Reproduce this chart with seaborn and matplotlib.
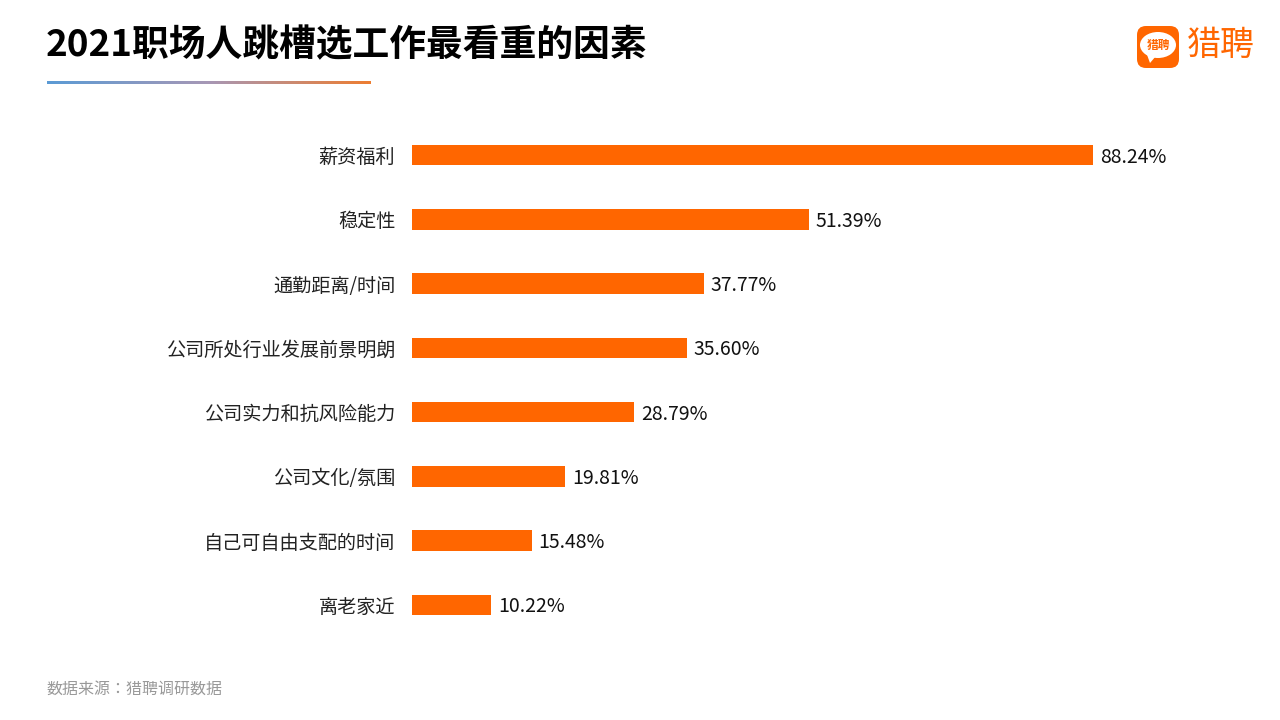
import matplotlib
matplotlib.use("Agg")
import matplotlib.pyplot as plt
from matplotlib import font_manager as fm
import seaborn as sns
import numpy as np
import pandas as pd
from matplotlib.patches import FancyBboxPatch, Ellipse, Polygon
from matplotlib.colors import LinearSegmentedColormap

names = sorted({f.name for f in fm.fontManager.ttflist})
cjk = [n for n in names if "CJK" in n]
plt.rcParams["font.family"] = "sans-serif"
plt.rcParams["font.sans-serif"] = cjk + ["Noto Sans CJK SC", "Noto Sans CJK JP", "DejaVu Sans"]

categories = ["薪资福利", "稳定性", "通勤距离/时间", "公司所处行业发展前景明朗", "公司实力和抗风险能力",
              "公司文化/氛围", "自己可自由支配的时间", "离老家近"]
values = [88.24, 51.39, 37.77, 35.60, 28.79, 19.81, 15.48, 10.22]
title = "2021职场人跳槽选工作最看重的因素"
source = "数据来源：猎聘调研数据"

df = pd.DataFrame({"cat": categories, "val": values})
fig = plt.figure(figsize=(12.8, 7.2), dpi=100)
ax = fig.add_axes([412/1280, 1-637/720, 772/1280, 514/720])
sns.barplot(data=df, x="val", y="cat", color="#FF6600", width=0.32, saturation=1, ax=ax)
ax.set_xlim(0, 100)
ax.set_ylim(len(values)-0.5, -0.5)
for i, v in enumerate(values):
    ax.text(v + 0.9, i + 0.03, f"{v:.2f}%", va="center", ha="left", fontsize=14, color="#111111")
ax.set_xlabel(""); ax.set_ylabel("")
ax.set_xticks([])
ax.tick_params(axis="y", length=0, pad=12, labelsize=13.8, labelcolor="#222222")
for s in ax.spines.values():
    s.set_visible(False)

fig.text(46/1280, 1-46/720, title, fontsize=26.5, fontweight="bold", va="center", ha="left", color="#000000")
gax = fig.add_axes([47/1280, 1-84/720, 324/1280, 3/720])
grad = np.linspace(0, 1, 256).reshape(1, -1)
cmap = LinearSegmentedColormap.from_list("g", ["#5B9BD5", "#A797B5", "#ED7D31"])
gax.imshow(grad, aspect="auto", cmap=cmap)
gax.axis("off")

fig.text(46/1280, 1-689/720, source, fontsize=11.5, color="#999999", va="center", ha="left")

lax = fig.add_axes([0, 0, 1, 1], facecolor="none")
lax.set_xlim(0, 1280); lax.set_ylim(720, 0); lax.axis("off")
lax.add_patch(FancyBboxPatch((1139, 28), 38, 38, boxstyle="round,pad=2,rounding_size=9", fc="#FF6600", ec="none"))
lax.add_patch(Ellipse((1158, 45), 36, 26, fc="white", ec="none"))
lax.add_patch(Polygon([[1146, 52], [1150, 63], [1156, 56]], fc="white", ec="none"))
lax.text(1158, 45, "猎聘", fontsize=8.5, color="#FF6600", ha="center", va="center", fontweight="bold")
lax.text(1187, 45, "猎聘", fontsize=24.5, color="#FF6600", ha="left", va="center")

fig.savefig("out.png", dpi=100)
